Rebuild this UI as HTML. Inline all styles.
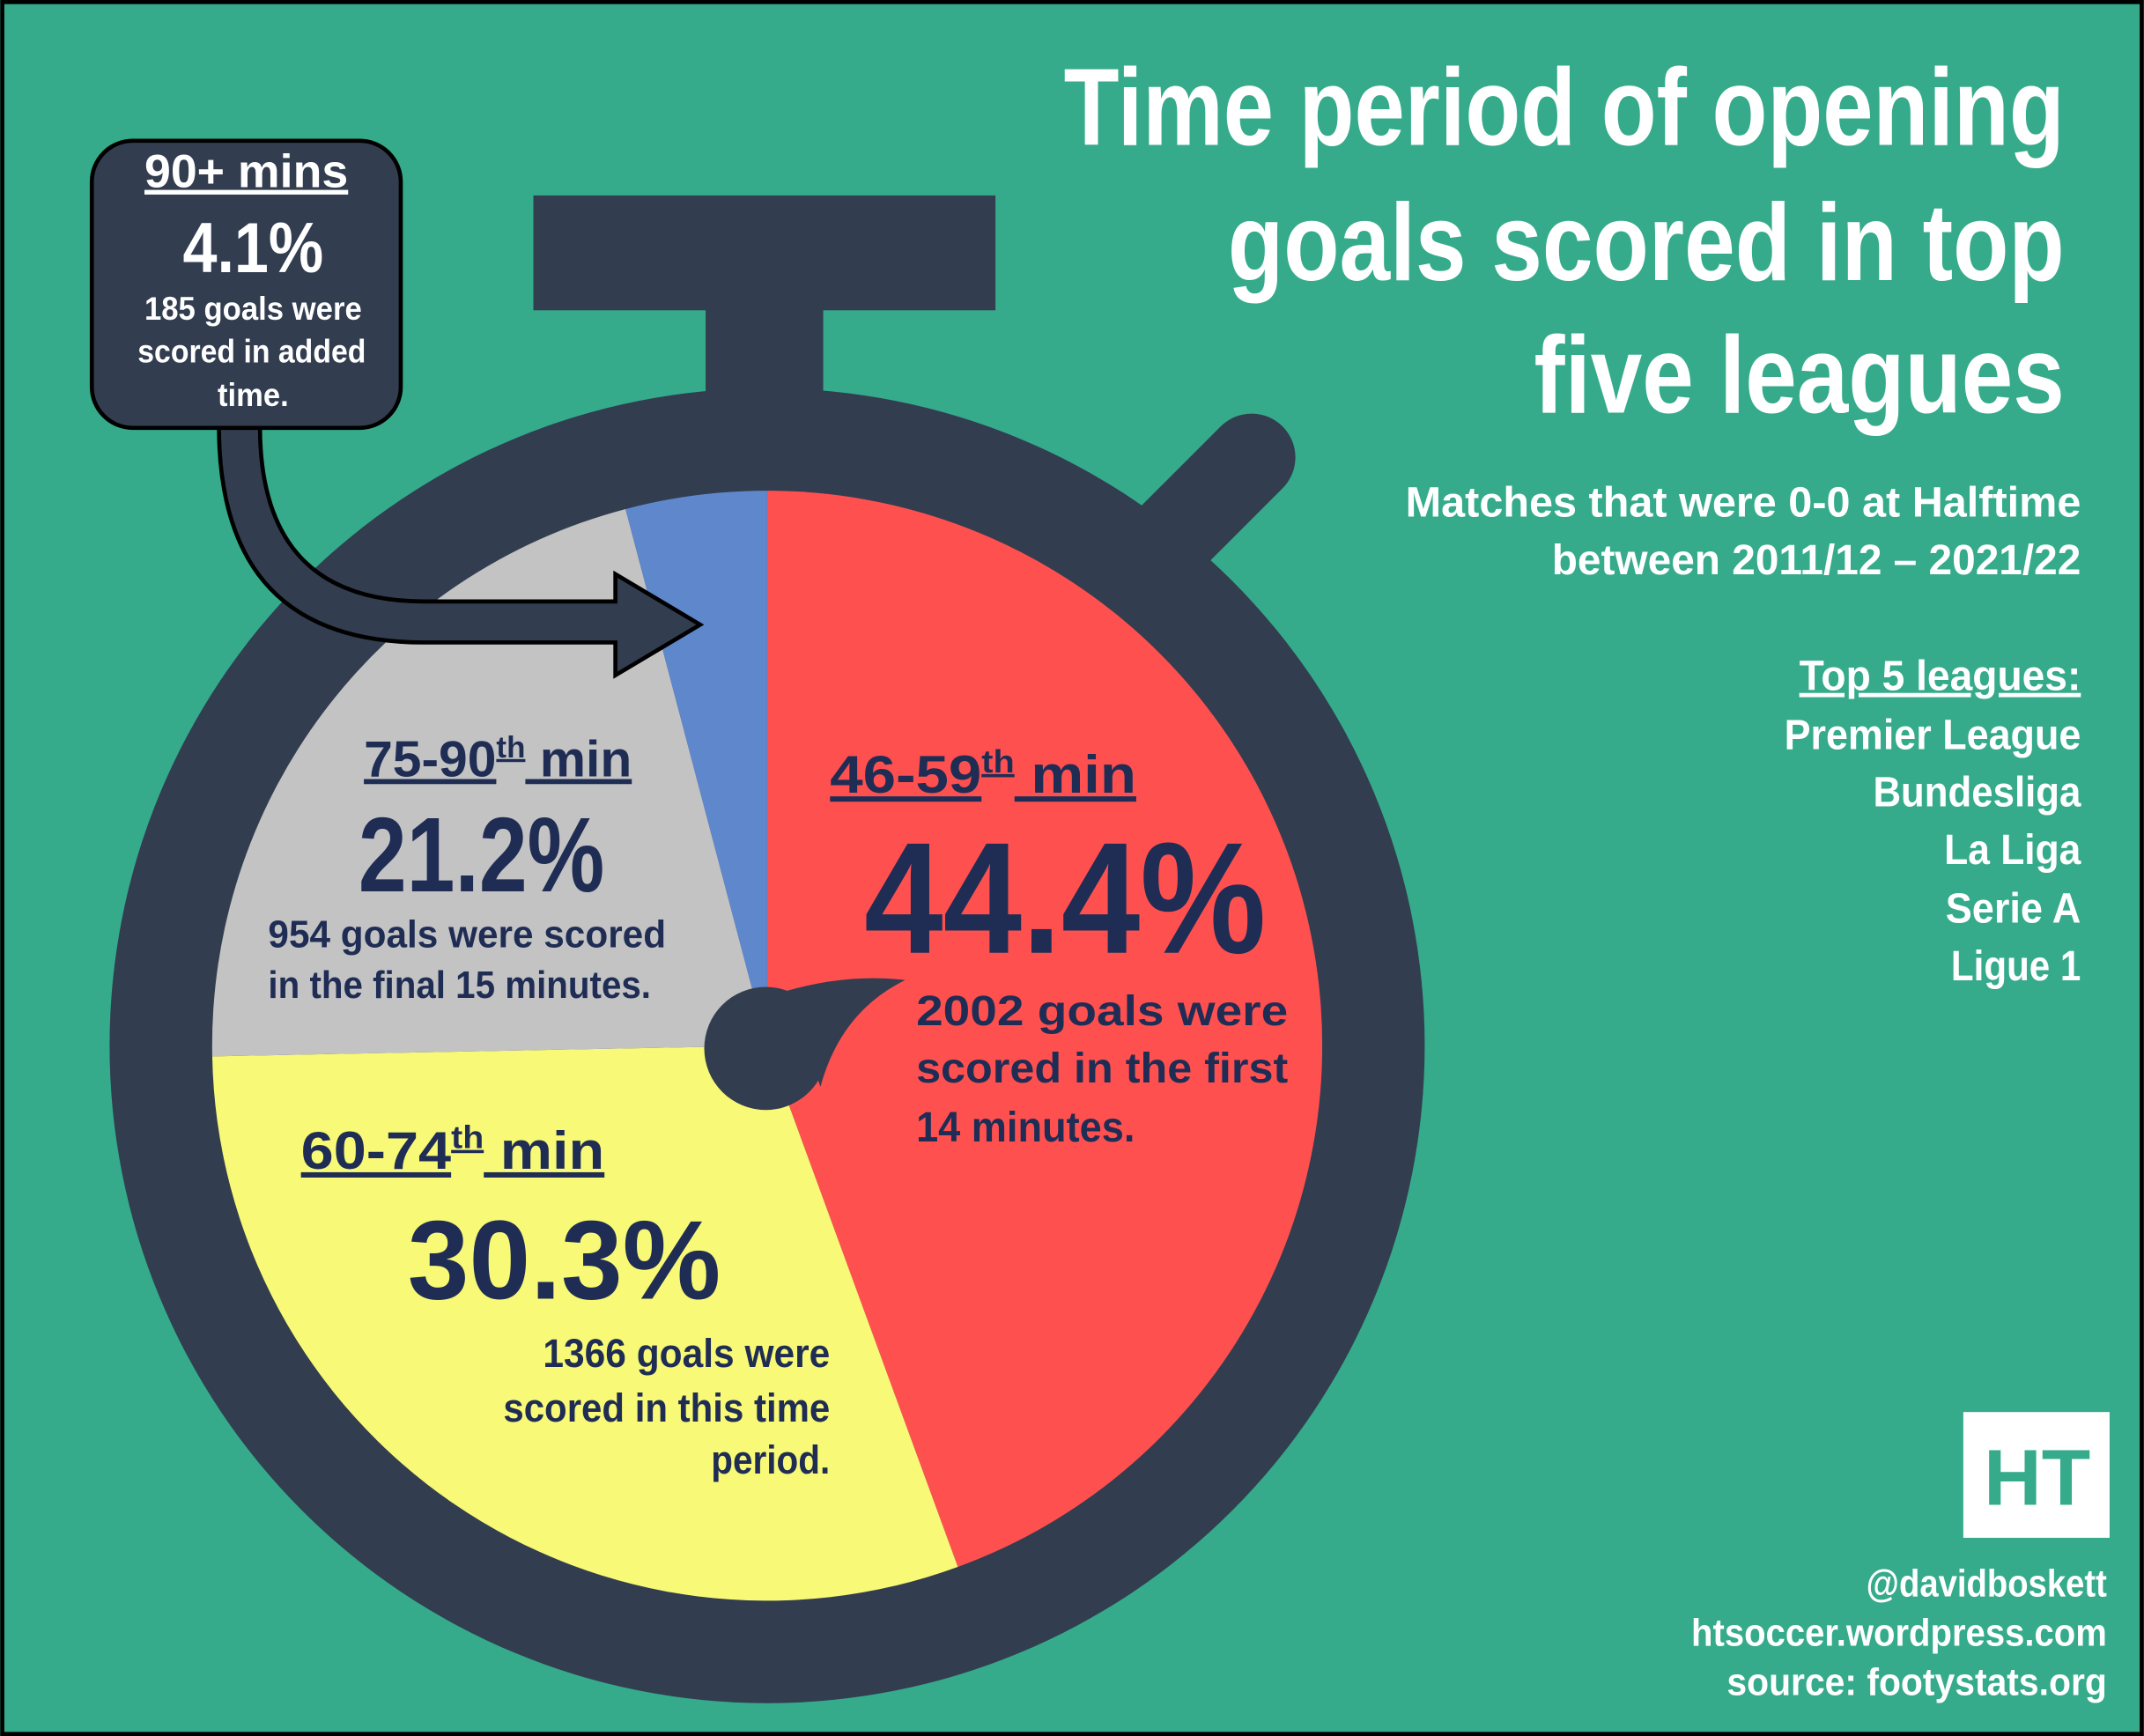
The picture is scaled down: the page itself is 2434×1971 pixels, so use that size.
<!DOCTYPE html>
<html><head><meta charset="utf-8"><style>
html,body{margin:0;padding:0;background:#35AB8B;}
svg{display:block;}
text{font-family:"Liberation Sans Narrow","Liberation Sans",sans-serif;font-weight:bold;}
</style></head><body>
<svg width="2434" height="1971" viewBox="0 0 1568 1270" xmlns="http://www.w3.org/2000/svg">
<rect x="1.5" y="1.5" width="1565" height="1267" fill="#35AB8B" stroke="#000" stroke-width="3"/>
<rect x="390" y="143" width="338" height="84" fill="#323D4F"/>
<rect x="516" y="220" width="86" height="75" fill="#323D4F"/>
<g transform="translate(885,365) rotate(-45)">
<rect x="-75" y="-32" width="150" height="64" rx="32" fill="#323D4F"/>
</g>
<circle cx="561" cy="765" r="481" fill="#323D4F"/>
<path d="M561,765 L561,359 A406,406 0 0 1 700.5,1146.3 Z" fill="#FF5050"/>
<path d="M561,765 L700.5,1146.3 A406,406 0 0 1 155.1,772.8 Z" fill="#F8F976"/>
<path d="M561,765 L155.1,772.8 A406,406 0 0 1 457.4,372.4 Z" fill="#C3C3C3"/>
<path d="M561,765 L457.4,372.4 A406,406 0 0 1 561,359 Z" fill="#5F87CC"/>
<circle cx="560" cy="767" r="45" fill="#323D4F"/>
<path d="M575,725 Q620,712 662,717 Q615,740 600,795 Z" fill="#323D4F"/>
<path d="M160,312 Q160,470 310,470 L450,470 L450,494 L512,457 L450,420 L450,440 L310,440 Q190,440 190,312 Z" fill="#323D4F" stroke="#000" stroke-width="3"/>
<rect x="67" y="103" width="226" height="210" rx="30" fill="#323D4F" stroke="#000" stroke-width="3"/>
<g fill="#fff" text-anchor="middle" lengthAdjust="spacingAndGlyphs">
<text x="180" y="137" font-size="34" text-decoration="underline" textLength="149" lengthAdjust="spacingAndGlyphs">90+ mins</text>
<text x="185" y="199" font-size="52" textLength="103" lengthAdjust="spacingAndGlyphs">4.1%</text>
<text x="185" y="234" font-size="24" textLength="159" lengthAdjust="spacingAndGlyphs">185 goals were</text>
<text x="184" y="265" font-size="24" textLength="167" lengthAdjust="spacingAndGlyphs">scored in added</text>
<text x="185" y="297" font-size="24" textLength="52" lengthAdjust="spacingAndGlyphs">time.</text>
</g>
<g fill="#fff" text-anchor="end">
<text x="1510" y="106" font-size="80" textLength="732" lengthAdjust="spacingAndGlyphs">Time period of opening</text>
<text x="1510" y="205" font-size="80" textLength="612" lengthAdjust="spacingAndGlyphs">goals scored in top</text>
<text x="1510" y="302" font-size="80" textLength="388" lengthAdjust="spacingAndGlyphs">five leagues</text>
<text x="1522" y="378" font-size="31" textLength="494" lengthAdjust="spacingAndGlyphs">Matches that were 0-0 at Halftime</text>
<text x="1522" y="420" font-size="31" textLength="387" lengthAdjust="spacingAndGlyphs">between 2011/12 – 2021/22</text>
<text x="1522" y="505" font-size="31" text-decoration="underline" textLength="206" lengthAdjust="spacingAndGlyphs">Top 5 leagues:</text>
<text x="1522" y="548" font-size="31" textLength="217" lengthAdjust="spacingAndGlyphs">Premier League</text>
<text x="1522" y="590" font-size="31" textLength="152" lengthAdjust="spacingAndGlyphs">Bundesliga</text>
<text x="1522" y="632" font-size="31" textLength="100" lengthAdjust="spacingAndGlyphs">La Liga</text>
<text x="1522" y="675" font-size="31" textLength="99" lengthAdjust="spacingAndGlyphs">Serie A</text>
<text x="1522" y="717" font-size="31" textLength="95" lengthAdjust="spacingAndGlyphs">Ligue 1</text>
<text x="1541" y="1168" font-size="28" textLength="176" lengthAdjust="spacingAndGlyphs">@davidboskett</text>
<text x="1541" y="1204" font-size="28" textLength="304" lengthAdjust="spacingAndGlyphs">htsoccer.wordpress.com</text>
<text x="1541" y="1240" font-size="28" textLength="278" lengthAdjust="spacingAndGlyphs">source: footystats.org</text>
</g>
<rect x="1436" y="1033" width="107" height="92" fill="#fff"/>
<text x="1490" y="1101" font-size="58" fill="#35AB8B" text-anchor="middle" textLength="78" lengthAdjust="spacingAndGlyphs">HT</text>
<g fill="#1F2D55">
<text x="266" y="568" font-size="37" text-decoration="underline" textLength="196" lengthAdjust="spacingAndGlyphs">75-90<tspan font-size="22" dy="-14">th</tspan><tspan dy="14"> min</tspan></text>
<text x="262" y="652" font-size="78" textLength="180" lengthAdjust="spacingAndGlyphs">21.2%</text>
<text x="196" y="693" font-size="28" textLength="291" lengthAdjust="spacingAndGlyphs">954 goals were scored</text>
<text x="196" y="730" font-size="28" textLength="280" lengthAdjust="spacingAndGlyphs">in the final 15 minutes.</text>
<text x="607" y="580" font-size="39" text-decoration="underline" textLength="224" lengthAdjust="spacingAndGlyphs">46-59<tspan font-size="23" dy="-15">th</tspan><tspan dy="15"> min</tspan></text>
<text x="632" y="697" font-size="116" textLength="294" lengthAdjust="spacingAndGlyphs">44.4%</text>
<text x="670" y="750" font-size="31" textLength="272" lengthAdjust="spacingAndGlyphs">2002 goals were</text>
<text x="670" y="792" font-size="31" textLength="272" lengthAdjust="spacingAndGlyphs">scored in the first</text>
<text x="670" y="835" font-size="31" textLength="160" lengthAdjust="spacingAndGlyphs">14 minutes.</text>
<text x="220" y="855" font-size="39" text-decoration="underline" textLength="222" lengthAdjust="spacingAndGlyphs">60-74<tspan font-size="23" dy="-15">th</tspan><tspan dy="15"> min</tspan></text>
<text x="298" y="950" font-size="82" textLength="229" lengthAdjust="spacingAndGlyphs">30.3%</text>
<g text-anchor="end">
<text x="607" y="1000" font-size="29" textLength="210" lengthAdjust="spacingAndGlyphs">1366 goals were</text>
<text x="607" y="1040" font-size="29" textLength="239" lengthAdjust="spacingAndGlyphs">scored in this time</text>
<text x="607" y="1078" font-size="29" textLength="87" lengthAdjust="spacingAndGlyphs">period.</text>
</g>
</g>
</svg>
</body></html>
